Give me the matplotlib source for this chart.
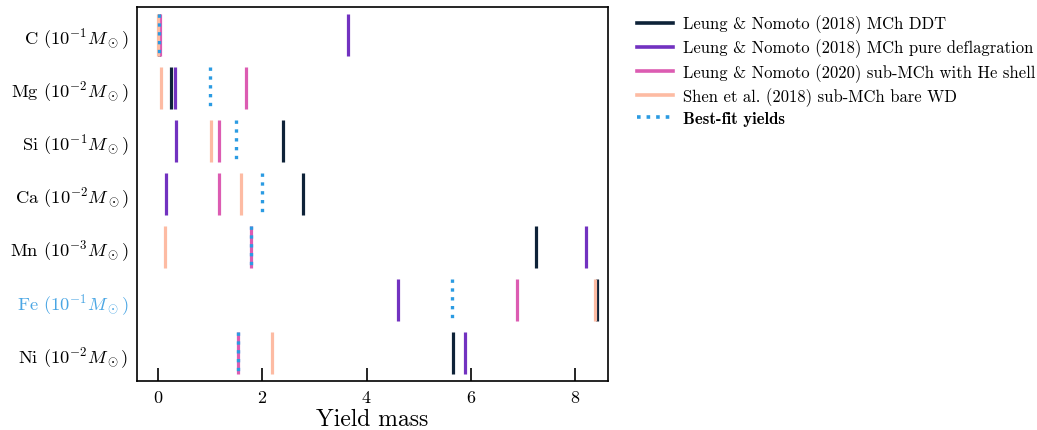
import numpy as np
import matplotlib.pyplot as plt
from matplotlib.lines import Line2D
from matplotlib.font_manager import FontProperties

plt.rcParams['font.family'] = 'cmr10'
plt.rcParams['mathtext.fontset'] = 'cm'
plt.rcParams['axes.formatter.use_mathtext'] = True

# Elements and the unit each row is expressed in
elements = ["C", "Mg", "Si", "Ca", "Mn", "Fe", "Ni"]
units = [-1, -2, -1, -2, -3, -1, -2]

# Yields per model, one value per element (same order as above)
ddt = [0.02, 0.26, 2.40, 2.79, 7.25, 8.42, 5.66]
deflag = [3.65, 0.33, 0.35, 0.15, 8.21, 4.60, 5.88]
he_shell = [0.04, 1.70, 1.17, 1.17, 1.79, 6.88, 1.53]
bare_wd = [0.00, 0.06, 1.02, 1.60, 0.14, 8.37, 2.19]
best_fit = [0.02, 1.00, 1.50, 2.00, 1.79, 5.63, 1.53]

models = [
    (ddt, "#0e2238", "-", "Leung & Nomoto (2018) MCh DDT"),
    (deflag, "#7232c0", "-", "Leung & Nomoto (2018) MCh pure deflagration"),
    (he_shell, "#dc5cb2", "-", "Leung & Nomoto (2020) sub-MCh with He shell"),
    (bare_wd, "#fdbba3", "-", "Shen et al. (2018) sub-MCh bare WD"),
    (best_fit, "#2b9be2", ":", "Best-fit yields"),
]

fig = plt.figure(figsize=(10.37, 4.31), dpi=100)
ax = fig.add_axes([0.132, 0.114, 0.454, 0.867])

rows = np.arange(len(elements))
handles = []
for vals, col, ls, lab in models:
    ax.vlines(vals, rows - 0.4, rows + 0.4, colors=col, linestyles=ls,
              linewidth=2.3 if ls == "-" else 2.4)
    handles.append(Line2D([], [], color=col, linestyle=ls, linewidth=2.6))

ax.set_yticks(rows)
ax.set_yticklabels([r"%s $(10^{%d}M_\odot)$" % (e, u) for e, u in zip(elements, units)],
                   fontsize=13.3)
ax.get_yticklabels()[5].set_color("#4aa6e4")
ax.set_ylim(6.52, -0.52)
ax.set_xlim(-0.40, 8.62)
ax.set_xticks([0, 2, 4, 6, 8])
ax.tick_params(axis='x', direction='in', length=9.5, width=1.2, labelsize=13, pad=6)
ax.tick_params(axis='y', length=0, pad=6)
for s in ax.spines.values():
    s.set_linewidth(1.2)
ax.set_xlabel("Yield mass", fontsize=17, labelpad=2)

leg = ax.legend(handles, [m[3] for m in models], loc="upper left",
                bbox_to_anchor=(1.03, 1.02), frameon=False, fontsize=12,
                handlelength=2.2, handletextpad=0.6, labelspacing=0.32)
leg.get_texts()[-1].set_fontproperties(FontProperties(family='cmb10', size=12))

plt.savefig("out.png", dpi=100)
